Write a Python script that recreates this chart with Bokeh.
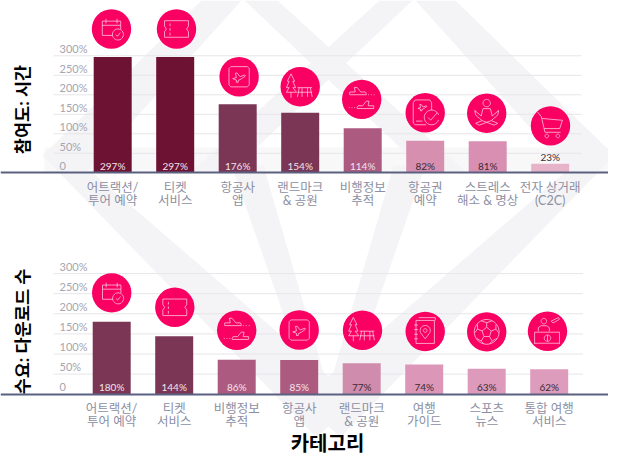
import numpy as np
from bokeh.plotting import figure
from bokeh.models import Range1d, LinearAxis, FixedTicker, Label
from bokeh.embed import file_html
from bokeh.resources import INLINE

# ---------- data ----------
top_labels = ["어트랙션/\n투어 예약", "티켓\n서비스", "항공사\n앱", "랜드마크\n& 공원",
              "비행정보\n추적", "항공권\n예약", "스트레스\n해소 & 명상", "전자 상거래\n(C2C)"]
top_values = [297, 297, 176, 154, 114, 82, 81, 23]
top_icons = ["calendar", "ticket", "plane", "park", "flights", "phone", "yoga", "cart"]
bottom_labels = ["어트랙션/\n투어 예약", "티켓\n서비스", "비행정보\n추적", "항공사\n앱",
                 "랜드마크\n& 공원", "여행\n가이드", "스포츠\n뉴스", "통합 여행\n서비스"]
bottom_values = [180, 144, 86, 85, 77, 74, 63, 62]
bottom_icons = ["calendar", "ticket", "flights", "plane", "park", "book", "ball", "desk"]
tick_values = [0, 50, 100, 150, 200, 250, 300]
tick_labels = ["0", "50%", "100%", "150%", "200%", "250%", "300%"]

# ---------- style / layout ----------
top_colors = ["#6E1233", "#6E1233", "#7B3655", "#7B3655", "#AD5A80", "#D78FB0", "#D98FB2", "#E6B3C9"]
bottom_colors = ["#7B3655", "#7B3655", "#AD5A80", "#AD5A80", "#CF8CAC", "#DB96B8", "#DD9ABB", "#DE9CBC"]
top_icon_gap = [28, 28, 27.4, 26, 29, 28, 28, 38]
bottom_icon_gap = [29, 29, 29.4, 30, 33, 33, 37, 38]
top_icon_dx = [-1.2, 1.3, 1.4, 0, -1, 0, -1, 0.3]
bottom_icon_dx = [0, 0.6, 0, 0, 0.8, 1, 0, -1.7]

W, H = 608, 455
OX, OY = 0, 0
FONT = "Lato, 'Noto Sans CJK KR'"
TITLE_FONT = "Lato, 'Noto Sans CJK KR'"
LATIN = "Lato"
PINK = "#FA0062"
GREY = "#F4F4F6"
GIRDLE = "#F8F8F9"
ICON_SCALE = 0.92

p = figure(width=W, height=H, output_backend="svg", toolbar_location=None,
           x_range=Range1d(OX, OX + W), y_range=Range1d(OY + H, OY),
           x_axis_location=None, y_axis_location=None, min_border=0,
           outline_line_color=None, background_fill_color="white")
p.grid.visible = False


# ---------- watermark ----------
def mirror(pts):
    return [(656 - x, y) for x, y in pts]


p.patches([[44, 614, 614, 44]], [[147, 147, 172, 172]], fill_color=GIRDLE, line_color=None)
bands = [
    [(455, 0), (614, 155), (570, 172), (415, 0)],
    [(412, 0), (230, 172), (190, 172), (379, 0)],
    [(614, 155), (340, 437), (300, 400), (564, 172)],
    [(425, 165), (393, 165), (322, 410), (336, 420)],
]
xs, ys = [], []
for b in bands:
    for q in (b, mirror(b)):
        xs.append([a for a, _ in q])
        ys.append([c for _, c in q])
p.patches(xs, ys, fill_color=GREY, line_color=None)


# ---------- icons (pixel offsets from the circle centre) ----------
def arc(cx, cy, r, a0=0, a1=360, n=28):
    t = np.radians(np.linspace(a0, a1, n))
    return list(zip(cx + r * np.cos(t), cy + r * np.sin(t)))


def plane(cx, cy, s=1.0):
    pts = [(-7, 3), (-3, 2), (-4, -3), (-2, -3), (1, 1), (6, -1), (7, 0), (3, 3), (-1, 5), (-1, 7), (-3, 7), (-3, 4.5), (-7, 3)]
    return [(cx + s * x, cy + s * y) for x, y in pts]


def flight(cx, cy, flip=1):
    pts = [(-9, 3), (-9, 0), (-3, 0), (-4, -5), (-1, -5), (3, 0), (8, 0), (9, 2), (9, 3), (-9, 3)]
    return [(cx + flip * x, cy + y) for x, y in pts]


ICONS = {
    "calendar": [[(0, -8.5), (-10, -8.5), (-10, 7), (1, 7)], [(10, 0), (10, -8.5), (0, -8.5)],
                 [(-10, -4), (10, -4)], [(-6, -11), (-6, -6)], [(6, -11), (6, -6)],
                 arc(7, 6, 6), [(4.5, 6), (6.5, 8), (9.5, 4)]],
    "ticket": [[(-13, -9), (13, -9), (13, -3), (11, 0), (13, 3), (13, 9), (-13, 9), (-13, 3), (-11, 0), (-13, -3), (-13, -9)],
               [(-7, -6), (-7, -3)], [(-7, -1), (-7, 2)], [(-7, 4), (-7, 7)]],
    "plane": [[(-9, -11), (9, -11), (11, -9), (11, 9), (9, 11), (-9, 11), (-11, 9), (-11, -9), (-9, -11)], plane(0, -1)],
    "park": [[(-10, -14), (-14, -6), (-12, -6), (-15, 1), (-12, 1), (-15, 6), (-4, 6), (-8, 1), (-5, 1), (-8, -6), (-6, -6), (-10, -14)],
             [(-10, 6), (-10, 12)], [(-3, 1), (13, 1)], [(-1, 1), (-3, 11)], [(11, 1), (13, 11)],
             [(-3, 6), (13, 6)], [(2, 1), (2, 11)], [(8, 1), (8, 11)]],
    "flights": [flight(-4, -8), [(7, -5), (8, -5)], [(10, -5), (11, -5)], [(13, -5), (14, -5)],
                flight(4, 7, -1), [(-8, 9), (-7, 9)], [(-11, 9), (-10, 9)], [(-14, 9), (-13, 9)]],
    "phone": [[(1, 13), (-11, 13), (-13, 11), (-13, -11), (-11, -14), (5, -14), (7, -11), (7, -3)],
              plane(-3, -7, 0.7), [(-10, 9), (-3, 9)], arc(7, 5, 8, 20, 340), [(3, 5), (6, 8), (13, 0)]],
    "yoga": [arc(0, -11, 4), [(-4, -5), (4, -5), (6, 3), (13, -3)], [(-4, -5), (-6, 3), (-13, -3)],
             [(-13, -3), (-12, 2), (-5, 8), (8, 13), (12, 11), (5, 8), (12, 2), (13, -3)],
             [(5, 8), (-8, 13), (-12, 11), (-5, 8)]],
    "cart": [[(-14, -15), (-10, -10), (-6, 7), (11, 7)], [(-9, -8), (13, -6), (10, 3), (-7, 3)],
             arc(-4, 11, 2), arc(8, 11, 2)],
    "book": [[(-10, -12), (10, -12), (10, 13), (-10, 13), (-10, -12)], [(-7, -15), (11, -15), (11, -12)],
             [(-12, -7), (-8, -7)], [(-12, -2), (-8, -2)], [(-12, 3), (-8, 3)], [(-12, 8), (-8, 8)],
             arc(0, -1, 5.5, 140, 400), [(-4.2, 2.5), (0, 8), (4.2, 2.5)], arc(0, -1, 2)],
    "ball": [arc(0, 0, 13.5), [(0, -5), (5, -1), (3, 5), (-3, 5), (-5, -1), (0, -5)],
             [(0, -5), (0, -10), (-6, -12)], [(0, -10), (6, -12)], [(5, -1), (10, -3), (13, 1)],
             [(10, -3), (10, -8)], [(-5, -1), (-10, -3), (-13, 1)], [(-10, -3), (-10, -8)],
             [(3, 5), (6, 10), (3, 13)], [(6, 10), (11, 7)], [(-3, 5), (-6, 10), (-3, 13)], [(-6, 10), (-11, 7)]],
    "desk": [arc(-4, -11, 3), [(-10, 0), (-10, -4), (-7, -6), (-1, -6), (2, -4), (2, 0)],
             [(-14, 14), (-14, 1), (13, 1), (13, 14)], [(-14, 13), (13, 13)], arc(0, 7.5, 3.5), [(0, 4), (0, 11)],
             [(4, -11), (12, -15), (13, -13), (6, -9), (4, -11)]],
}


# ---------- panels ----------
def panel(name, values, labels, colors, icons, gaps, dxs, base_y, per_pct, cx0, grid_end, title, title_y):
    ry, rx, rt = name + "_y", name + "_x", name + "_ticks"
    p.extra_y_ranges[ry] = Range1d((base_y - (OY + H)) / per_pct, (base_y - OY) / per_pct)
    p.extra_x_ranges[rx] = Range1d((OX - cx0) / 62.5, (OX + W - cx0) / 62.5)
    # tick texts sit 7px above their gridline
    lift = 7.3
    p.extra_y_ranges[rt] = Range1d((base_y - lift - (OY + H)) / per_pct, (base_y - lift - OY) / per_pct)
    n = len(values)
    idx = list(range(n))

    p.segment(x0=[53] * 6, x1=[grid_end] * 6, y0=tick_values[1:], y1=tick_values[1:],
              y_range_name=ry, line_color="#E6E6EA", line_width=1)
    p.vbar(x=idx, top=values, bottom=0, width=0.608, fill_color=colors, line_color=None,
           x_range_name=rx, y_range_name=ry)

    yaxis = LinearAxis(y_range_name=rt, fixed_location=53, axis_line_color=None,
                       major_tick_line_color=None, minor_tick_line_color=None,
                       ticker=FixedTicker(ticks=tick_values),
                       major_label_overrides=dict(zip(tick_values, tick_labels)),
                       major_label_text_font=LATIN, major_label_text_font_size="11px",
                       major_label_text_color="#A3A5B0", major_label_standoff=0)
    p.add_layout(yaxis, "right")

    xaxis = LinearAxis(x_range_name=rx, fixed_location=base_y, axis_line_color="#5B6080", axis_line_width=2,
                       major_tick_line_color=None, minor_tick_line_color=None,
                       ticker=FixedTicker(ticks=idx),
                       major_label_overrides=dict(zip(idx, labels)),
                       major_label_text_font=FONT, major_label_text_font_size="12.5px",
                       major_label_text_color="#8C8FA3", major_label_standoff=1,
                       major_label_text_line_height=0.86)
    p.add_layout(xaxis, "below")

    # value labels
    inside = [v >= 50 for v in values]
    text_y = [0 if k else v for v, k in zip(values, inside)]
    text_col = ["#F3E3EA" if c in ("#6E1233", "#7B3655", "#AD5A80") else "#3A2A32" for c in colors]
    p.text(x=idx, y=text_y, text=[f"{v}%" for v in values], text_color=text_col,
           text_font={"value": LATIN}, text_font_size="10px", text_align="center", text_baseline="bottom",
           y_offset=-1, x_range_name=rx, y_range_name=ry)

    # icons
    cx = [cx0 + 62.5 * i + d for i, d in zip(idx, dxs)]
    cy = [base_y - per_pct * v - g for v, g in zip(values, gaps)]
    p.scatter(cx, cy, size=39.4, marker="circle", fill_color=PINK, line_color=None)
    mx, my = [], []
    for ic, x0, y0 in zip(icons, cx, cy):
        for path in ICONS[ic]:
            mx.append([x0 + ICON_SCALE * a for a, _ in path])
            my.append([y0 + ICON_SCALE * b for _, b in path])
    p.multi_line(mx, my, line_color="#FFC4DC", line_width=0.8)

    p.add_layout(Label(x=22, y=title_y, text=title, angle=np.pi / 2, text_font=TITLE_FONT, text_font_style="bold",
                       text_font_size="17.5px", text_color="black", text_align="center", text_baseline="middle"))


panel("top", top_values, top_labels, top_colors, top_icons, top_icon_gap, top_icon_dx,
      172.3, 0.39, 112.2, 581, "참여도: 시간", 109)
panel("bottom", bottom_values, bottom_labels, bottom_colors, bottom_icons, bottom_icon_gap, bottom_icon_dx,
      393.7, 0.402, 111.2, 582.5, "수요: 다운로드 수", 331)

p.add_layout(Label(x=327, y=442, text="카테고리", text_font=TITLE_FONT, text_font_style="bold",
                   text_font_size="20px", text_color="black", text_align="center", text_baseline="middle"))

open("out.html", "w").write(file_html(p, INLINE))
